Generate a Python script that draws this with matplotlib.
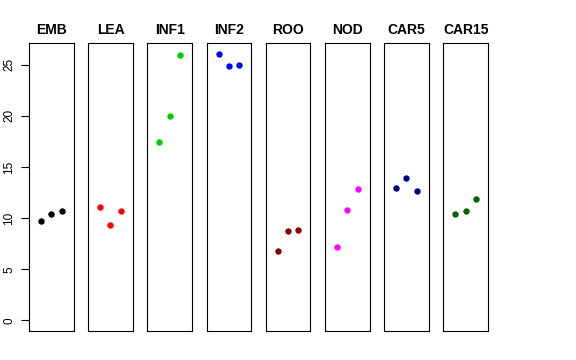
import matplotlib
matplotlib.use("Agg")
import matplotlib.pyplot as plt

plt.rcParams['font.family'] = ['Liberation Sans', 'DejaVu Sans']

groups = ["EMB", "LEA", "INF1", "INF2", "ROO", "NOD", "CAR5", "CAR15"]
values = {
    "EMB":   [9.73, 10.35, 10.64],
    "LEA":   [11.09, 9.31, 10.67],
    "INF1":  [17.44, 19.98, 25.94],
    "INF2":  [26.04, 24.90, 24.96],
    "ROO":   [6.74, 8.72, 8.79],
    "NOD":   [7.13, 10.74, 12.82],
    "CAR5":  [12.95, 13.93, 12.60],
    "CAR15": [10.38, 10.67, 11.85],
}
colors = ["#000000", "#FF0000", "#00CD00", "#0000FF", "#8B0000",
          "#FF00FF", "#00008B", "#006400"]
replicates = [1, 2, 3]
yticks = [0, 5, 10, 15, 20, 25]

W, H = 576, 360
fig = plt.figure(figsize=(W / 100, H / 100), dpi=100)

ymax = max(max(v) for v in values.values())
yr = ymax * 0.04
left0, pitch, width = 29.0, 59.19, 44.6
top, bottom = 43.3, 331.0

for i, g in enumerate(groups):
    l = left0 + i * pitch
    ax = fig.add_axes([l / W, 1 - bottom / H, width / W, (bottom - top) / H])
    ax.plot(replicates, values[g], 'o', color=colors[i], markersize=4.6,
            markeredgewidth=0)
    ax.set_xlim(-0.16, 4.16)
    ax.set_ylim(-yr, ymax + yr)
    ax.set_xticks([])
    for s in ax.spines.values():
        s.set_linewidth(0.8)
        s.set_color('black')
    ax.set_title(g, fontsize=10, fontweight='bold', pad=7)
    if i == 0:
        ax.set_yticks(yticks)
        ax.set_yticklabels([str(t) for t in yticks], rotation=90, va='center')
        ax.tick_params(axis='y', labelsize=8.5, length=6, width=0.8, pad=4)
    else:
        ax.set_yticks([])

fig.savefig("out.png", dpi=100)
